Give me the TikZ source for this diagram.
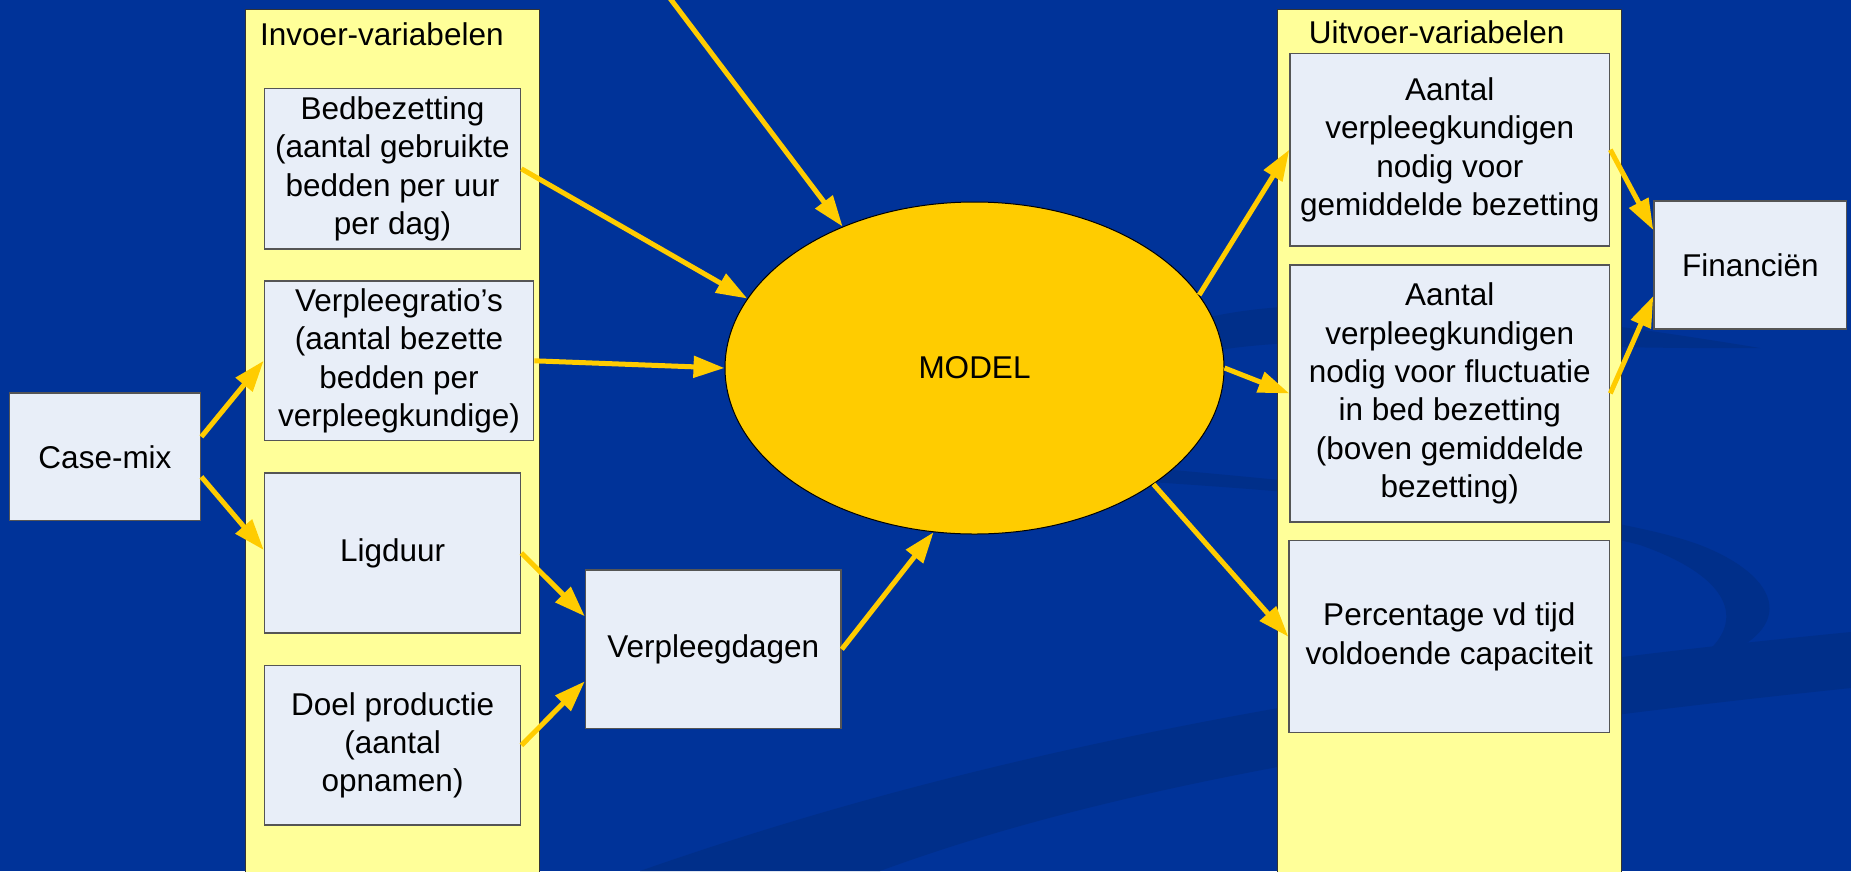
\documentclass[tikz,border=0pt]{standalone}
\usepackage{fontspec}
\setmainfont{Liberation Sans}
\usetikzlibrary{arrows.meta,shapes.geometric}
\definecolor{bgblue}{HTML}{003399}
\definecolor{swooshblue}{HTML}{002F8A}
\definecolor{panelyellow}{HTML}{FFFF99}
\definecolor{panelborder}{HTML}{333333}
\definecolor{boxfill}{HTML}{E8EEF8}
\definecolor{boxborder}{HTML}{555555}
\definecolor{gold}{HTML}{FFCC00}
\begin{document}
\begin{tikzpicture}[x=1pt,y=-1pt,
  txt/.style={font=\fontsize{31.5}{38.3}\selectfont, text=black},
  box/.style={txt, draw=boxborder, line width=1.5pt, fill=boxfill, rectangle,
    inner sep=0pt, align=center},
  panel/.style={draw=panelborder, line width=1.5pt, fill=panelyellow},
  flow/.style={draw=gold, line width=5pt, -{Triangle[length=31pt,width=21pt]}},
  swoosh/.style={fill=swooshblue}
]
\useasboundingbox (0,0) rectangle (1851,871);
\clip (0,0) rectangle (1851,871);
\fill[bgblue] (0,0) rectangle (1851,871);

% background swooshes
\fill[swoosh] (640,871) .. controls (900,780) and (1250,690) .. (1851,632)
  -- (1851,688) .. controls (1400,735) and (1100,790) .. (880,871) -- cycle;
\fill[swoosh] (1150,468) .. controls (1400,490) and (1620,515) .. (1700,545)
  .. controls (1790,580) and (1800,640) .. (1686,667)
  .. controls (1750,630) and (1740,580) .. (1640,545)
  .. controls (1500,510) and (1350,495) .. (1150,482) -- cycle;
\fill[swoosh] (1190,322) .. controls (1300,290) and (1500,305) .. (1760,348)
  .. controls (1500,350) and (1300,328) .. (1190,356) -- cycle;

% panels
\draw[panel] (245.5,9.4) rectangle (539.5,880);
\draw[panel] (1277.4,9.4) rectangle (1621.5,880);
\node[txt, anchor=base west, inner sep=0pt] (intitle) at (260,45) {Invoer-variabelen};
\node[txt, anchor=base west, inner sep=0pt] (outtitle) at (1308.7,43.5) {Uitvoer-variabelen};

% nodes
\node[box, minimum width=191.3pt, minimum height=127.6pt] (casemix) at (105,456.8) {Case-mix};
\node[box, minimum width=256.2pt, minimum height=160.5pt] (bed) at (392.5,168.8)
  {Bedbezetting\\(aantal gebruikte\\bedden per uur\\per dag)};
\node[box, minimum width=269.2pt, minimum height=159.5pt] (ratio) at (399,360.8)
  {Verpleegratio’s\\(aantal bezette\\bedden per\\verpleegkundige)};
\node[box, minimum width=256.2pt, minimum height=160pt] (ligduur) at (392.6,553) {Ligduur};
\node[box, minimum width=256.2pt, minimum height=159.5pt] (doel) at (392.6,745.3)
  {Doel productie\\(aantal\\opnamen)};
\node[box, minimum width=255.5pt, minimum height=158.5pt] (dagen) at (713.3,649.3) {Verpleegdagen};
\node[txt, ellipse, draw=black, line width=1pt, fill=gold, inner sep=0pt,
  minimum width=499pt, minimum height=332pt] (model) at (974.5,368) {MODEL};
\node[box, minimum width=319.5pt, minimum height=192.7pt] (aantal1) at (1449.8,149.7)
  {Aantal\\verpleegkundigen\\nodig voor\\gemiddelde bezetting};
\node[box, minimum width=319.5pt, minimum height=256.7pt] (aantal2) at (1449.8,393.4)
  {Aantal\\verpleegkundigen\\nodig voor fluctuatie\\in bed bezetting\\(boven gemiddelde\\bezetting)};
\node[box, minimum width=320.5pt, minimum height=192pt] (perc) at (1449.3,636.7)
  {Percentage vd tijd\\voldoende capaciteit};
\node[box, minimum width=192.5pt, minimum height=128pt] (fin) at (1750.3,265) {Financiën};
\coordinate (topsrc) at (669,-3);

% connectors
\draw[flow] (topsrc) -- (model.133.7);
\draw[flow] (bed.east) -- (model.163.3);
\draw[flow] (ratio.east) -- (model.180.2);
\draw[flow] ([yshift=20pt]casemix.east) -- (ratio.west);
\draw[flow] ([yshift=-20pt]casemix.east) -- ([yshift=3pt]ligduur.west);
\draw[flow] (ligduur.east) -- ([yshift=33pt]dagen.west);
\draw[flow] (doel.east) -- ([yshift=-32pt]dagen.west);
\draw[flow] (dagen.east) -- (model.256.6);
\draw[flow] (model.18.3) -- (aantal1.west);
\draw[flow] (model.0) -- (aantal2.west);
\draw[flow] (model.-33) -- (perc.west);
\draw[flow] (aantal1.east) -- ([yshift=35pt]fin.west);
\draw[flow] (aantal2.east) -- ([yshift=-31pt]fin.west);
\end{tikzpicture}
\end{document}
